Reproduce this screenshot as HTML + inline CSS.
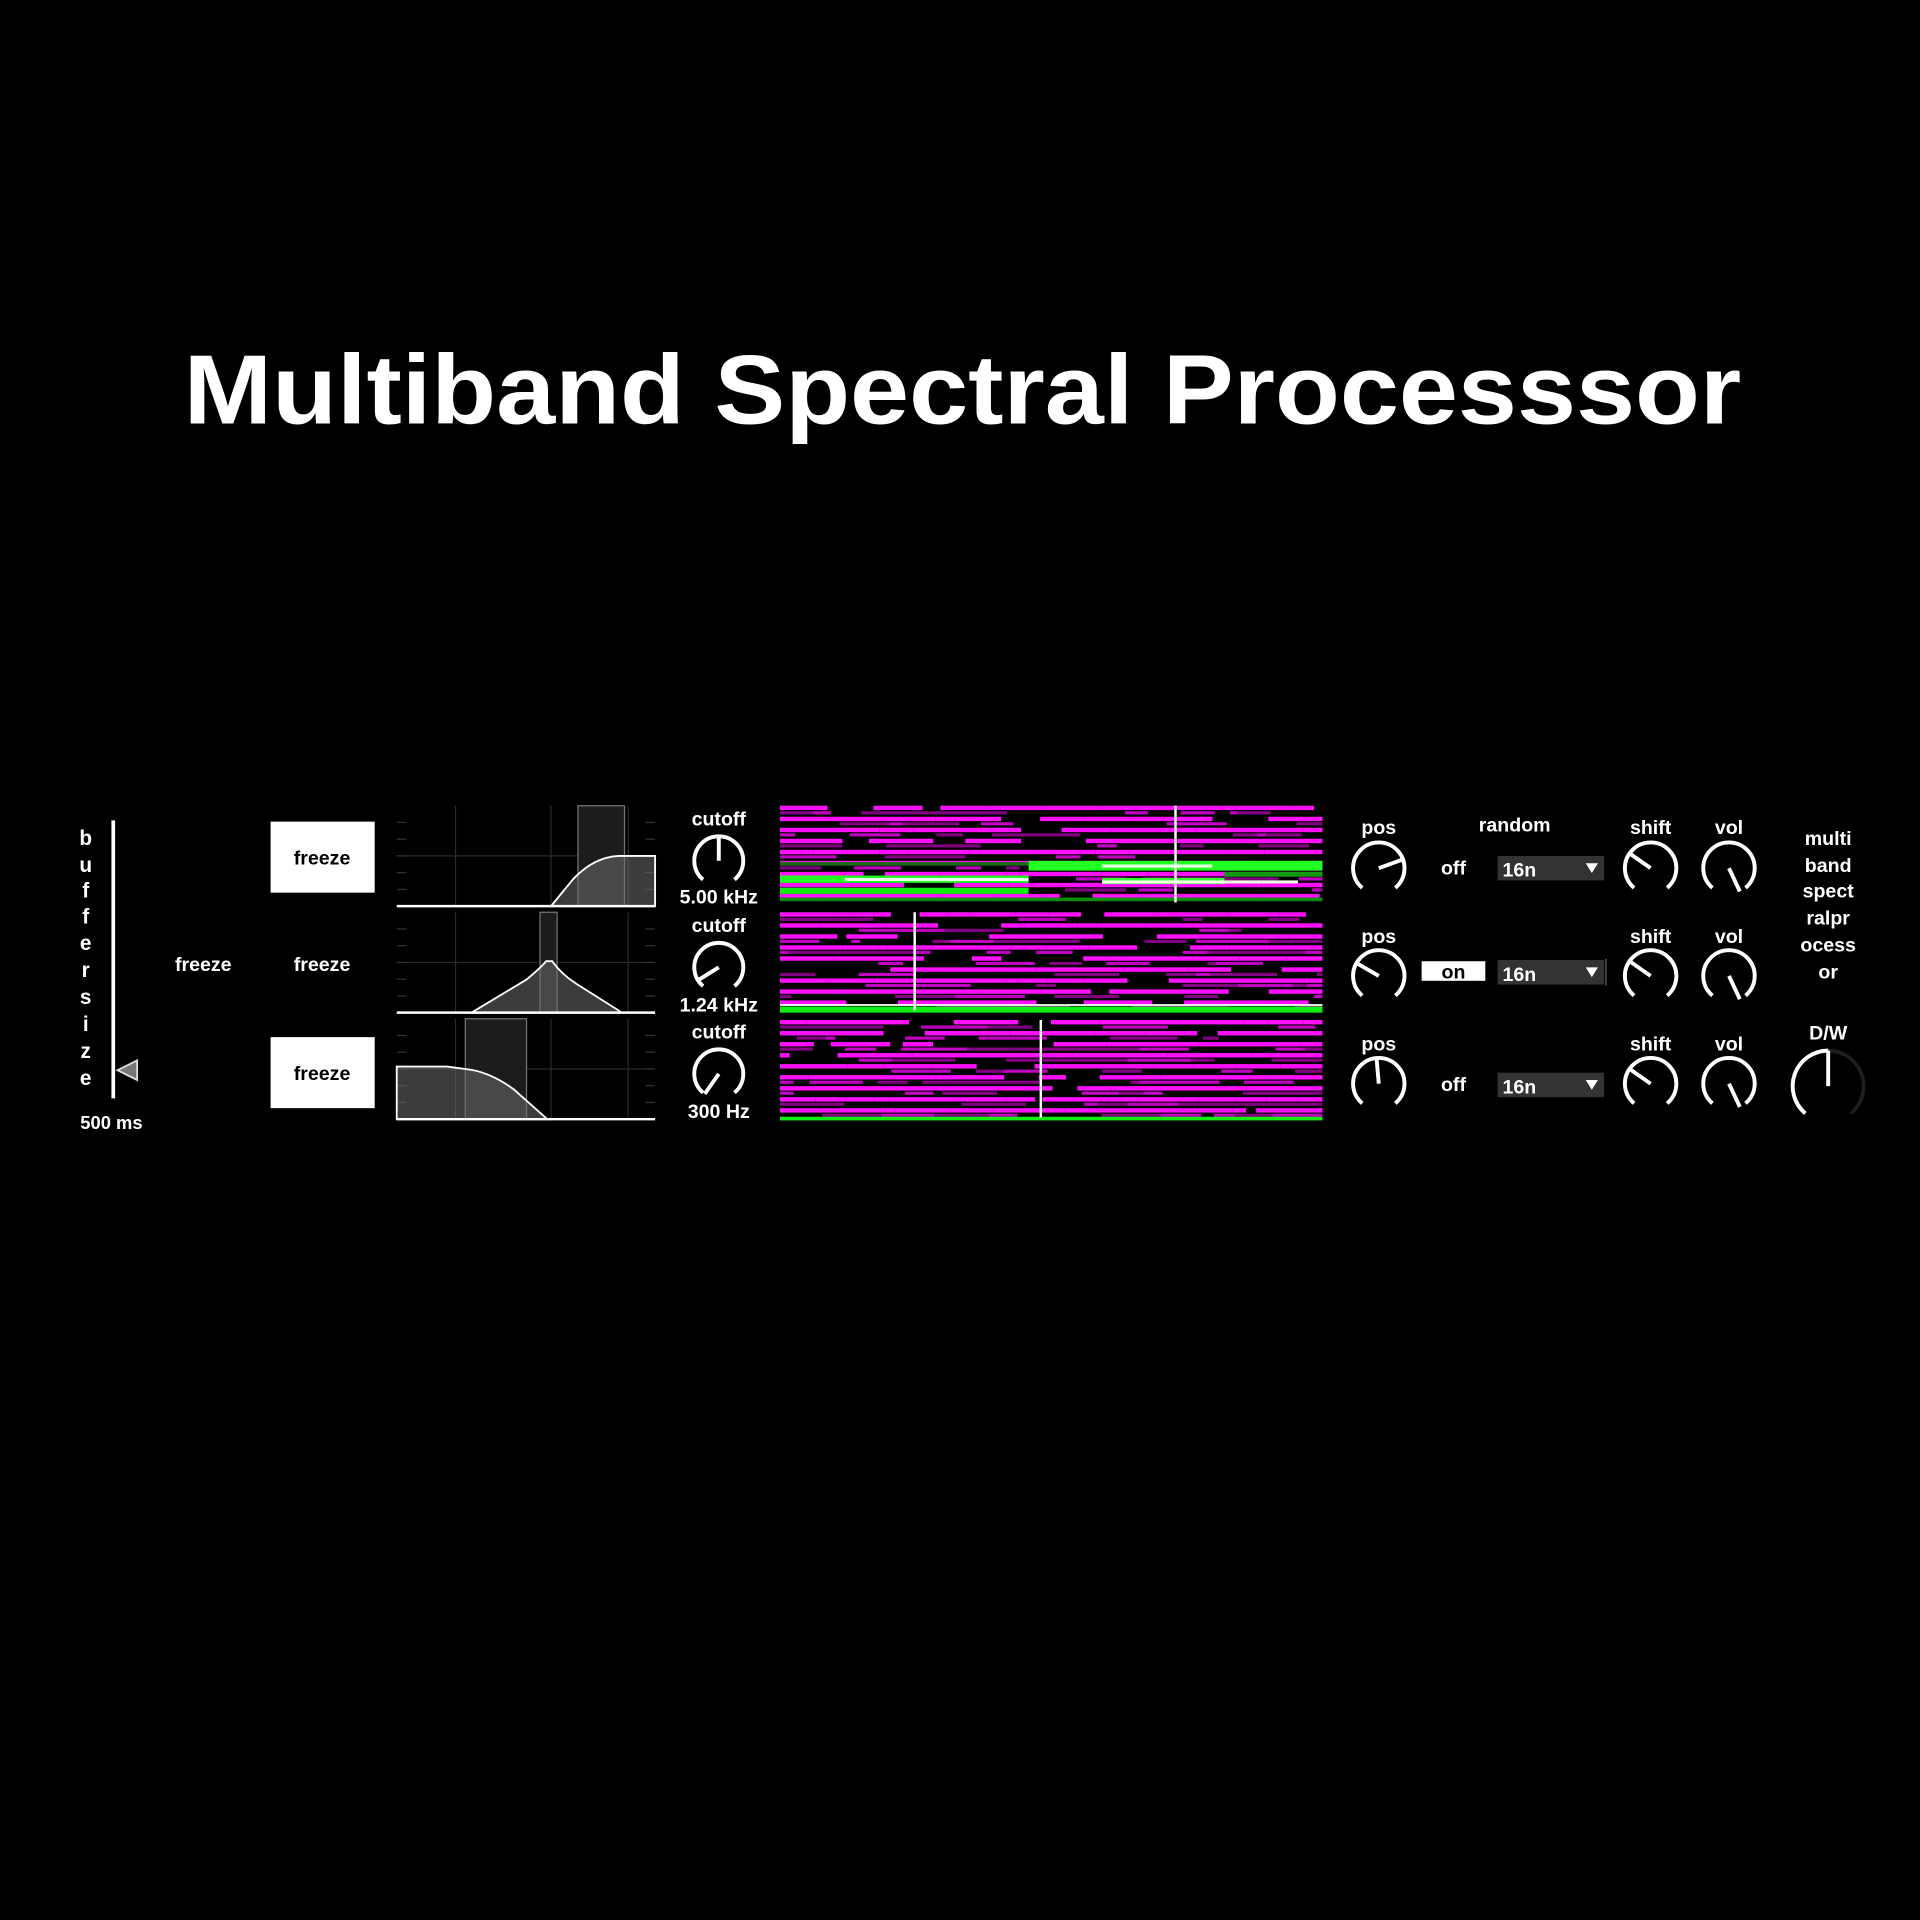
<!DOCTYPE html>
<html><head><meta charset="utf-8"><style>
html,body{margin:0;padding:0;background:#000;width:1920px;height:1920px;overflow:hidden}
svg{display:block}
text{font-family:"Liberation Sans",sans-serif;font-weight:bold;fill:#fff}
</style></head><body>
<svg id="s" width="1920" height="1920" viewBox="0 0 1568 1568" xmlns="http://www.w3.org/2000/svg">
<rect width="1568" height="1568" fill="#000"/>
<text x="786" y="346" font-size="80" text-anchor="middle" textLength="1272" lengthAdjust="spacingAndGlyphs">Multiband Spectral Processsor</text>

<rect x="91" y="670" width="3" height="227" fill="#fff"/>
<g font-size="17" text-anchor="middle">
<text x="70" y="690">b</text><text x="70" y="712">u</text><text x="70" y="733">f</text><text x="70" y="754">f</text><text x="70" y="776">e</text><text x="70" y="798">r</text><text x="70" y="820">s</text><text x="70" y="842">i</text><text x="70" y="864">z</text><text x="70" y="886">e</text>
</g>
<polygon points="96,874 112,866 112,882" fill="#777" stroke="#ddd" stroke-width="1.5"/>
<text x="91" y="922" font-size="15" text-anchor="middle">500 ms</text>

<rect x="221" y="671" width="85" height="58" fill="#fff"/>
<text x="263" y="706" font-size="16" text-anchor="middle" style="fill:#000">freeze</text>
<text x="166" y="793" font-size="16" text-anchor="middle">freeze</text>
<text x="263" y="793" font-size="16" text-anchor="middle">freeze</text>
<rect x="221" y="847" width="85" height="58" fill="#fff"/>
<text x="263" y="882" font-size="16" text-anchor="middle" style="fill:#000">freeze</text>

<g id="filters"></g>
<g id="spec"></g>
<g id="knobs"></g>

<g font-size="16" text-anchor="middle">
<text x="587" y="674">cutoff</text><text x="587" y="738">5.00 kHz</text>
<text x="587" y="761">cutoff</text><text x="587" y="826">1.24 kHz</text>
<text x="587" y="848">cutoff</text><text x="587" y="913">300 Hz</text>

<text x="1126" y="681">pos</text><text x="1126" y="770">pos</text><text x="1126" y="858">pos</text>
<text x="1237" y="679">random</text>
<text x="1187" y="714">off</text><text x="1187" y="891">off</text>
<text x="1348" y="681">shift</text><text x="1348" y="770">shift</text><text x="1348" y="858">shift</text>
<text x="1412" y="681">vol</text><text x="1412" y="770">vol</text><text x="1412" y="858">vol</text>
<text x="1493" y="690">multi</text><text x="1493" y="712">band</text><text x="1493" y="733">spect</text><text x="1493" y="755">ralpr</text><text x="1493" y="777">ocess</text><text x="1493" y="799">or</text>
<text x="1493" y="849">D/W</text>
</g>
<rect x="1161" y="785" width="52" height="16" fill="#fff"/>
<text x="1187" y="799" font-size="16" text-anchor="middle" style="fill:#000">on</text>
<g font-size="16">
<rect x="1223" y="699" width="87" height="20" fill="#333"/><text x="1227" y="716">16n</text><polygon points="1295,705 1305,705 1300,713" fill="#fff"/>
<rect x="1223" y="784" width="87" height="20" fill="#333"/><text x="1227" y="801">16n</text><polygon points="1295,790 1305,790 1300,798" fill="#fff"/>
<rect x="1311" y="783" width="1" height="22" fill="#666"/>
<rect x="1223" y="876" width="87" height="20" fill="#333"/><text x="1227" y="893">16n</text><polygon points="1295,882 1305,882 1300,890" fill="#fff"/>
</g>
</svg>
<script>
var NS="http://www.w3.org/2000/svg";
function el(p,t,a){var e=document.createElementNS(NS,t);for(var k in a)e.setAttribute(k,a[k]);p.appendChild(e);return e;}
var seed=12345;function rnd(){seed=(seed*1103515245+12345)&0x7fffffff;return seed/0x7fffffff;}
var F=document.getElementById('filters');
var rows=[[658,740],[745,827],[832,914]];
rows.forEach(function(r){
 var t=r[0],b=r[1];
 [372,450,513].forEach(function(x){el(F,'line',{x1:x,y1:t,x2:x,y2:b,stroke:'#2a2a2a','stroke-width':1});});
 el(F,'line',{x1:324,y1:(t+b)/2,x2:535,y2:(t+b)/2,stroke:'#2a2a2a','stroke-width':1});
 for(var i=1;i<6;i++){var y=t+i*(b-t)/6;el(F,'line',{x1:324,y1:y,x2:332,y2:y,stroke:'#333','stroke-width':1});el(F,'line',{x1:527,y1:y,x2:535,y2:y,stroke:'#333','stroke-width':1});}
});
el(F,'rect',{x:472,y:658,width:38,height:82,fill:'#1c1c1c',stroke:'#777','stroke-width':1});
el(F,'path',{d:'M450,740 L468,718 Q485,700 505,699 L535,699 L535,740 Z',fill:'rgba(110,110,110,0.55)',stroke:'#fff','stroke-width':1.5});
el(F,'rect',{x:441,y:745,width:14,height:82,fill:'#1c1c1c',stroke:'#777','stroke-width':1});
el(F,'path',{d:'M385,827 L430,800 Q442,790 446,785 L451,785 Q458,795 470,803 L508,827 Z',fill:'rgba(110,110,110,0.55)',stroke:'#fff','stroke-width':1.5});
el(F,'rect',{x:380,y:832,width:50,height:82,fill:'#1c1c1c',stroke:'#777','stroke-width':1});
el(F,'path',{d:'M324,914 L324,871 L365,871 L380,873 Q400,875 420,890 L447,914 Z',fill:'rgba(110,110,110,0.55)',stroke:'#fff','stroke-width':1.5});
rows.forEach(function(r){el(F,'line',{x1:324,y1:r[1],x2:535,y2:r[1],stroke:'#fff','stroke-width':2});});
var S=document.getElementById('spec');
var srows=[[658,737],[745,827],[833,915]];
srows.forEach(function(r,ri){
 var k=0;
 for(var y=r[0];y<r[1]-3;y+=4.5,k++){
  var strong=(k%2==0);
  var x=637;
  while(x<1080){
   var w=6+rnd()*50; if(x+w>1080)w=1080-x;
   var p=rnd();
   if(strong? p<0.85 : p<0.5){
     el(S,'rect',{x:x,y:y,width:w,height:strong?3.6:2.6,fill:strong?'#ff10ff':(rnd()<0.5?'#c000c0':'#800080')});
   }
   x+=w;
  }
 }
});
[[637,840,715,6,'#22ff22'],[637,840,725,5,'#11ee11'],[840,1080,703,8,'#22ff22'],[900,1000,717,5,'#33ff33'],[637,840,704,3,'#1a6a1a'],[1000,1080,712,4,'#119911'],[637,1080,733,3,'#0c8c0c']].forEach(function(g){el(S,'rect',{x:g[0],y:g[2],width:g[1]-g[0],height:g[3],fill:g[4]});});
el(S,'rect',{x:690,y:717,width:150,height:2.5,fill:'#eaffea'});
el(S,'rect',{x:900,y:706,width:90,height:2.5,fill:'#eaffea'});
el(S,'rect',{x:900,y:719,width:160,height:2.5,fill:'#f0ffe0'});
el(S,'rect',{x:637,y:822,width:443,height:5,fill:'#11ee11'});
el(S,'rect',{x:637,y:820,width:443,height:1.5,fill:'#eeffee'});
el(S,'rect',{x:637,y:912,width:443,height:3,fill:'#11ee11'});
el(S,'rect',{x:959,y:658,width:2,height:79,fill:'#fff'});
el(S,'rect',{x:746,y:745,width:2,height:80,fill:'#fff'});
el(S,'rect',{x:849,y:833,width:2,height:80,fill:'#fff'});
var K=document.getElementById('knobs');
function pt(cx,cy,r,a){var t=(a-90)*Math.PI/180;return [cx+r*Math.cos(t),cy+r*Math.sin(t)];}
function arc(cx,cy,r,a1,a2,col,w){var p1=pt(cx,cy,r,a1),p2=pt(cx,cy,r,a2);var large=(a2-a1)>180?1:0;
 el(K,'path',{d:'M'+p1[0]+','+p1[1]+' A'+r+','+r+' 0 '+large+' 1 '+p2[0]+','+p2[1],fill:'none',stroke:col,'stroke-width':w,'stroke-linecap':'butt'});}
function knob(cx,cy,r,a){arc(cx,cy,r,-140,140,'#fff',3.2);var p=pt(cx,cy,r,a);el(K,'line',{x1:cx,y1:cy,x2:p[0],y2:p[1],stroke:'#fff','stroke-width':3.2});}
knob(587,703,20,0);knob(587,790,20,-122);knob(587,877,20,-145);
[[709,70],[797,-60],[885,-5]].forEach(function(k){knob(1126,k[0],21,k[1]);});
[709,797,885].forEach(function(y){knob(1348,y,21,-55);knob(1412,y,21,155);});
arc(1493,887,29,0,140,'#1e1e1e',3);arc(1493,887,29,-140,0,'#fff',3.2);
el(K,'line',{x1:1493,y1:887,x2:1493,y2:858,stroke:'#fff','stroke-width':3.2});
</script>
</body></html>
